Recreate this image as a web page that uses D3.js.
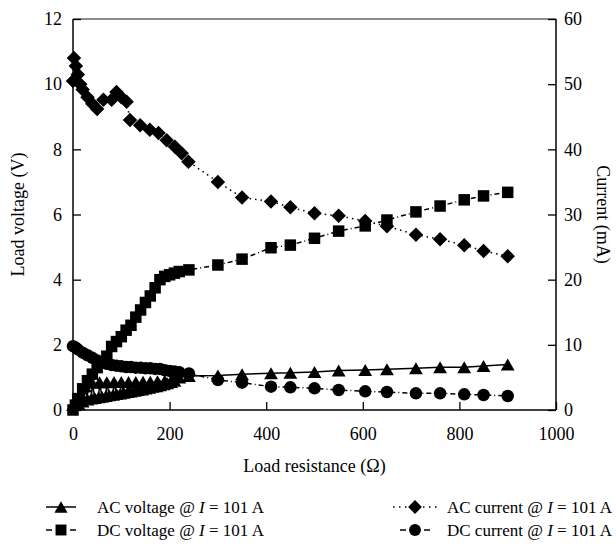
<!DOCTYPE html>
<html><head><meta charset="utf-8">
<script src="https://cdn.jsdelivr.net/npm/d3@7"></script>
<style>
html,body{margin:0;padding:0;background:#fff;}
svg{display:block;font-family:"Liberation Serif","DejaVu Serif",serif;}
</style></head>
<body><svg id="c" width="616" height="545"></svg>
<script>
// ---- data ----
const xTicks = [0, 200, 400, 600, 800, 1000];
const yLeftTicks = [0, 2, 4, 6, 8, 10, 12];
const yRightTicks = [0, 10, 20, 30, 40, 50, 60];

const acVoltageR = [0, 8, 16, 25, 40, 55, 70, 85, 100, 115, 130, 145, 160, 175, 190, 205, 220, 240,
                    12, 20, 30, 38, 45, 53, 60, 68, 75, 83, 90, 98, 105, 113, 120, 128, 135, 143, 150, 158, 165, 173, 180, 188, 195, 203, 210,
                    300, 350, 410, 450, 500, 550, 605, 650, 710, 760, 810, 850, 900];
const acVoltage  = [0.15, 0.3, 0.5, 0.72, 0.84, 0.85, 0.85, 0.86, 0.86, 0.86, 0.86, 0.87, 0.87, 0.88, 0.9, 0.95, 1.0, 1.04,
                    0.18, 0.26, 0.32, 0.35, 0.37, 0.39, 0.41, 0.43, 0.45, 0.47, 0.49, 0.51, 0.53, 0.55, 0.57, 0.59, 0.61, 0.63, 0.66, 0.68, 0.71, 0.73, 0.76, 0.79, 0.82, 0.86, 0.9,
                    1.06, 1.10, 1.13, 1.14, 1.17, 1.21, 1.23, 1.25, 1.28, 1.31, 1.31, 1.35, 1.40];

const dcVoltageR = [0, 5, 10, 20, 30, 40, 50, 60, 70, 80, 90, 100, 110, 120, 130, 140, 150, 160, 170, 180, 190, 200, 210, 220, 240,
                    300, 350, 410, 450, 500, 550, 605, 650, 710, 760, 810, 850, 900];
const dcVoltage  = [0, 0.15, 0.35, 0.65, 0.9, 1.1, 1.3, 1.45, 1.65, 1.95, 2.1, 2.25, 2.45, 2.6, 2.85, 3.07, 3.3, 3.5, 3.75, 4.0, 4.1, 4.15, 4.2, 4.25, 4.3,
                    4.45, 4.63, 4.98, 5.06, 5.27, 5.49, 5.65, 5.83, 6.08, 6.26, 6.45, 6.57, 6.68];

const acCurrentR = [0, 2, 6, 10, 15, 20, 30, 40, 50, 63, 80, 90, 100, 111, 118, 139, 159, 177, 194, 211, 225, 239,
                    300, 350, 410, 450, 500, 550, 605, 650, 710, 760, 810, 850, 900];
const acCurrent  = [50.5, 54.0, 52.8, 51.5, 50.0, 49.2, 48.0, 47.0, 46.2, 47.6, 47.6, 48.8, 48.0, 47.3, 44.5, 43.7, 43.0, 42.5, 41.4, 40.4, 39.4, 38.1,
                    35.0, 32.6, 32.0, 31.1, 30.2, 29.8, 29.0, 28.2, 26.9, 26.2, 25.3, 24.4, 23.6];

const dcCurrentR = [0, 5, 10, 20, 30, 40, 50, 60, 70, 80, 90, 100, 110, 120, 130, 140, 150, 160, 170, 180, 190, 200, 210, 220, 240,
                    300, 350, 410, 450, 500, 550, 605, 650, 710, 760, 810, 850, 900];
const dcCurrent  = [9.8, 9.6, 9.3, 8.8, 8.4, 8.0, 7.6, 7.3, 7.1, 6.9, 6.8, 6.7, 6.6, 6.6, 6.5, 6.5, 6.4, 6.4, 6.3, 6.3, 6.1, 6.0, 5.9, 5.8, 5.6,
                    4.6, 4.2, 3.58, 3.48, 3.33, 3.07, 2.87, 2.76, 2.56, 2.56, 2.41, 2.30, 2.15];

const legendLabels = ["AC voltage", "DC voltage", "AC current", "DC current"];

// ---- layout ----
const svg = d3.select("#c");
const L = 73, R = 556, T = 19, B = 410;
const x = d3.scaleLinear().domain([0, 1000]).range([L, R]);
const yL = d3.scaleLinear().domain([0, 12]).range([B, T]);
const yR = d3.scaleLinear().domain([0, 60]).range([B, T]);
const FS = 18;
const FONT = '"Liberation Serif","DejaVu Serif",serif';

function zip(a, b) { return a.map((v, i) => [v, b[i]]); }
function sorted(a, b) { return zip(a, b).sort((p, q) => p[0] - q[0]); }

const tri = (s) => { const w = s * 1.15, h = s; return `M0,${-h/2}L${w/2},${h/2}L${-w/2},${h/2}Z`; };
const sq = (s) => `M${-s/2},${-s/2}h${s}v${s}h${-s}Z`;
const dia = (s) => `M0,${-s/2}L${s/2},0L0,${s/2}L${-s/2},0Z`;
const circ = (s) => `M${s/2},0A${s/2},${s/2} 0 1 1 ${-s/2},0A${s/2},${s/2} 0 1 1 ${s/2},0Z`;

const series = [
  { pts: sorted(acVoltageR, acVoltage), y: yL, dash: null, shape: tri, size: 12 },
  { pts: zip(dcVoltageR, dcVoltage), y: yL, dash: "5,3,1,3", shape: sq, size: 11.5 },
  { pts: zip(acCurrentR, acCurrent), y: yR, dash: "1.5,4", shape: dia, size: 14.5 },
  { pts: zip(dcCurrentR, dcCurrent), y: yR, dash: "5,3,1,3", shape: circ, size: 12.5 }
];

series.forEach(s => {
  const line = d3.line().x(d => x(d[0])).y(d => s.y(d[1]));
  svg.append("path").attr("d", line(s.pts)).attr("fill", "none")
    .attr("stroke", "#000").attr("stroke-width", 1.5)
    .attr("stroke-dasharray", s.dash);
});
series.forEach(s => {
  svg.append("g").selectAll("path").data(s.pts).join("path")
    .attr("transform", d => `translate(${x(d[0])},${s.y(d[1])})`)
    .attr("d", s.shape(s.size)).attr("fill", "#000");
});

// frame
svg.append("line").attr("x1", L).attr("x2", R).attr("y1", T).attr("y2", T).attr("stroke", "#666").attr("stroke-width", 1.5);
svg.append("line").attr("x1", L).attr("x2", L).attr("y1", T).attr("y2", B).attr("stroke", "#000").attr("stroke-width", 1.5);
svg.append("line").attr("x1", R).attr("x2", R).attr("y1", T).attr("y2", B).attr("stroke", "#000").attr("stroke-width", 1.5);
svg.append("line").attr("x1", L).attr("x2", R).attr("y1", B).attr("y2", B).attr("stroke", "#000").attr("stroke-width", 1.5);

function styleAxis(g) {
  g.select(".domain").remove();
  g.selectAll(".tick line").attr("stroke", "#000").attr("stroke-width", 1.3);
  g.selectAll(".tick text").attr("font-size", FS).attr("fill", "#000").attr("font-family", FONT);
}
svg.append("g").attr("transform", `translate(0,${B})`)
  .call(d3.axisBottom(x).tickValues(xTicks).tickSize(-8).tickPadding(17).tickFormat(d3.format("d")))
  .call(styleAxis);
svg.append("g").attr("transform", `translate(${L},0)`)
  .call(d3.axisLeft(yL).tickValues(yLeftTicks).tickSize(-8).tickPadding(11).tickFormat(d3.format("d")))
  .call(styleAxis);
svg.append("g").attr("transform", `translate(${R},0)`)
  .call(d3.axisRight(yR).tickValues(yRightTicks).tickSize(-8).tickPadding(8).tickFormat(d3.format("d")))
  .call(styleAxis);

// titles
svg.append("text").attr("x", (L + R) / 2).attr("y", 472).attr("text-anchor", "middle")
  .attr("font-size", FS).text("Load resistance (Ω)");
svg.append("text").attr("transform", `translate(24,${(T + B) / 2}) rotate(-90)`).attr("text-anchor", "middle")
  .attr("font-size", FS).text("Load voltage (V)");
svg.append("text").attr("transform", `translate(597,${(T + B) / 2}) rotate(90)`).attr("text-anchor", "middle")
  .attr("font-size", FS).text("Current (mA)");

// legend
const legSym = [[61, 507, 15], [61, 530, 15], [415, 507, 22], [415, 530, 15]];
const legText = [97, 97, 447, 447];
series.forEach((s, i) => {
  const [cx, cy, hw] = legSym[i];
  if (i === 0) {
    svg.append("line").attr("x1", cx - hw).attr("x2", cx + hw).attr("y1", cy).attr("y2", cy)
      .attr("stroke", "#000").attr("stroke-width", 1.5);
  } else if (i === 2) {
    svg.append("line").attr("x1", cx - hw).attr("x2", cx + hw).attr("y1", cy).attr("y2", cy)
      .attr("stroke", "#000").attr("stroke-width", 1.5).attr("stroke-dasharray", "1.5,4.5");
  } else {
    [-1, 1].forEach(sg => {
      svg.append("line").attr("x1", cx + sg * (hw - 6)).attr("x2", cx + sg * hw).attr("y1", cy).attr("y2", cy)
        .attr("stroke", "#000").attr("stroke-width", 1.5);
    });
  }
  svg.append("path").attr("transform", `translate(${cx},${cy})`).attr("d", s.shape(s.size * 0.95)).attr("fill", "#000");
  const t = svg.append("text").attr("x", legText[i]).attr("y", cy + 6).attr("font-size", 17);
  t.append("tspan").text(legendLabels[i] + " @ ");
  t.append("tspan").attr("font-style", "italic").text("I");
  t.append("tspan").text(" = 101 A");
});
</script></body></html>
